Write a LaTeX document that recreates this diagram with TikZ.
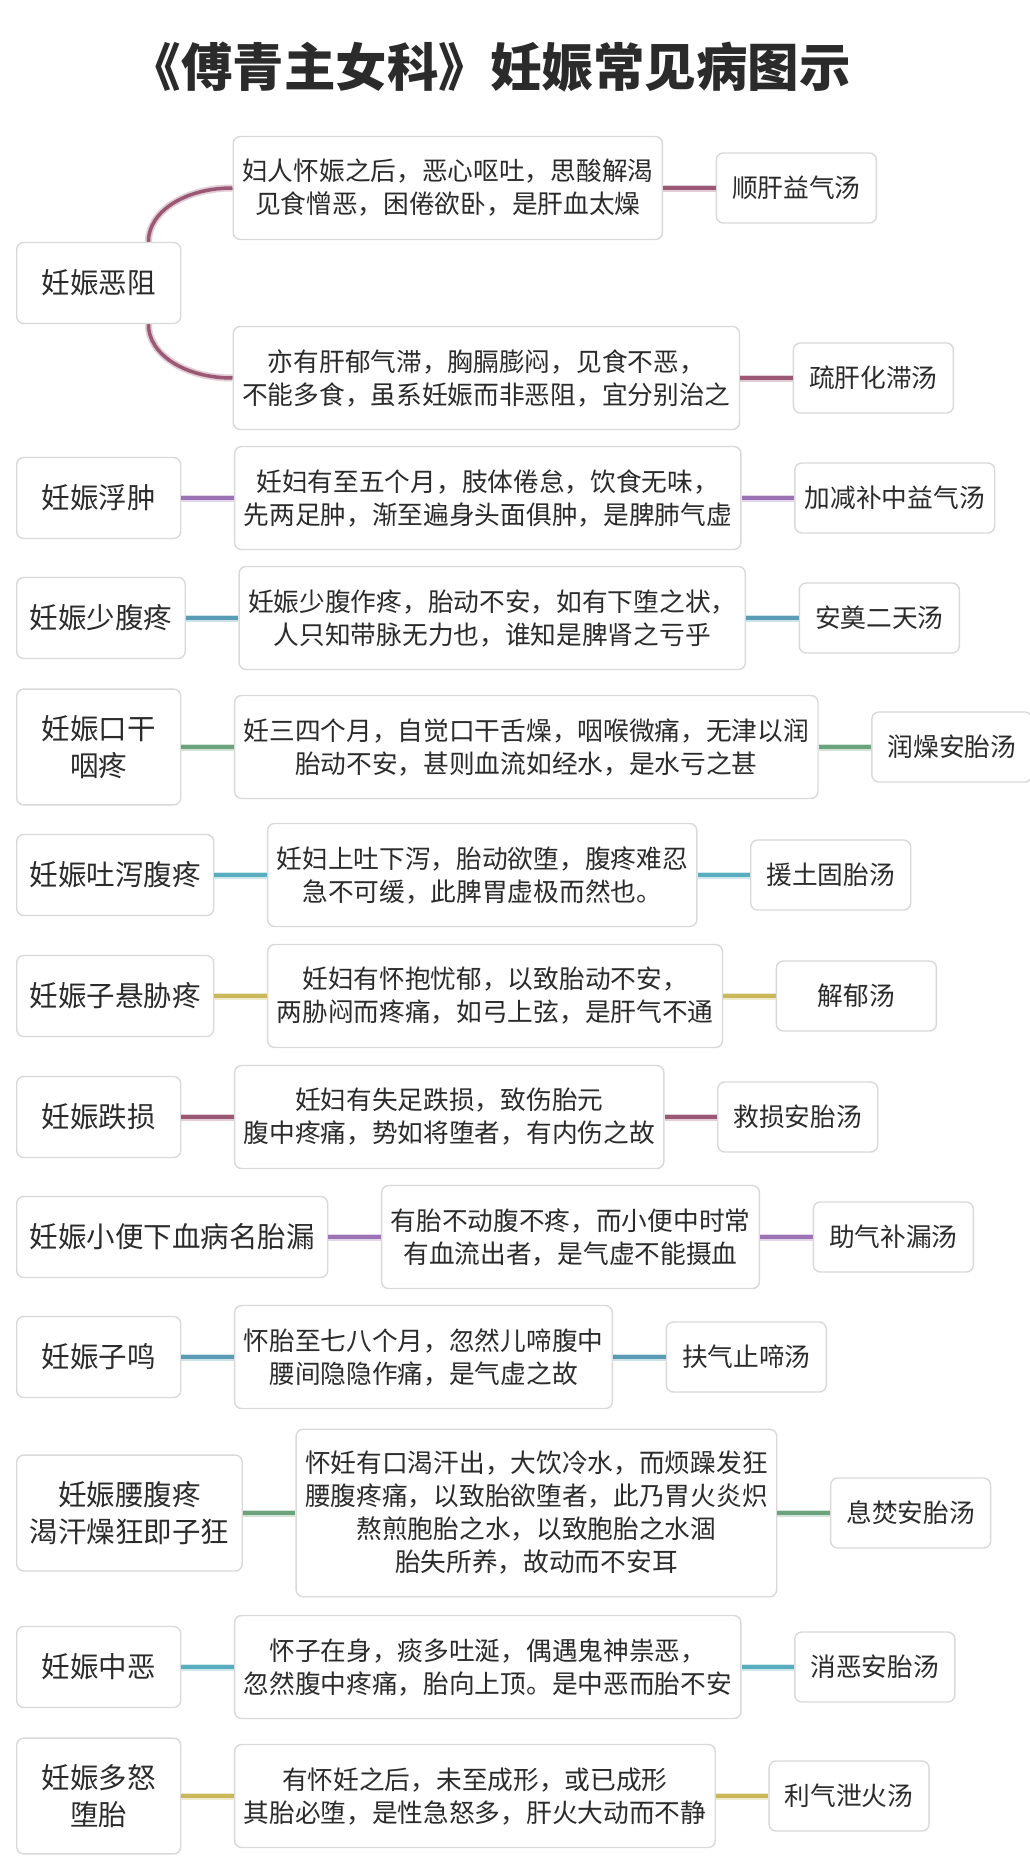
\documentclass[tikz,border=0pt]{standalone}
\usepackage{fontspec}
\setmainfont{Noto Sans CJK SC}
\usetikzlibrary{positioning}
\definecolor{boxgray}{HTML}{D9D9D9}
\definecolor{txtgray}{HTML}{2B2B2B}
\definecolor{linkA}{HTML}{9B5874}
\definecolor{linkB}{HTML}{9C73B5}
\definecolor{linkC}{HTML}{5A9CB4}
\definecolor{linkD}{HTML}{6BA37C}
\definecolor{linkE}{HTML}{58AEBE}
\definecolor{linkF}{HTML}{C9B75A}

\begin{document}
\begin{tikzpicture}[x=1pt,y=-1pt,node distance=52.5pt,
	sicknode/.style={rectangle, rounded corners=7pt, draw=boxgray, line width=1.4pt, fill=white, align=center, text=txtgray, font=\fontsize{28.5}{37.5}\selectfont, inner xsep=13pt, inner ysep=26pt, minimum width=164pt, minimum height=81pt, anchor=west},
	textnode/.style={rectangle, rounded corners=7pt, draw=boxgray, line width=1.4pt, fill=white, align=center, text=txtgray, font=\fontsize{25.7}{33}\selectfont, inner xsep=9pt, inner ysep=22pt, minimum height=103pt},
	fangnode/.style={rectangle, rounded corners=7pt, draw=boxgray, line width=1.4pt, fill=white, align=center, text=txtgray, font=\fontsize{25.7}{33}\selectfont, inner xsep=10pt, minimum width=160pt, minimum height=70pt},
	link/.style={draw=#1, line width=3.5pt, preaction={draw=#1!30, line width=7pt}}]
	\path[use as bounding box, fill=white] (0,0) rectangle (1029,1876);
	\node[text=txtgray, font=\fontsize{51.5}{60}\selectfont\bfseries] (title) at (490,67) {《傅青主女科》妊娠常见病图示};
	% 妊娠恶阻
	\node[sicknode] (ezu) at (16,283) {妊娠恶阻};
	\node[textnode, anchor=west] (ezuA) at (232.5,188) {妇人怀娠之后，恶心呕吐，思酸解渴\\见食憎恶，困倦欲卧，是肝血太燥};
	\node[fangnode] (ezuAf) [right = of ezuA] {顺肝益气汤};
	\node[textnode, anchor=west] (ezuB) at (232.5,378) {亦有肝郁气滞，胸膈膨闷，见食不恶，\\不能多食，虽系妊娠而非恶阻，宜分别治之};
	\node[fangnode] (ezuBf) [right = of ezuB] {疏肝化滞汤};
	\coordinate (ezuTop) at ([xshift=-33pt]ezu.north east);
	\coordinate (ezuBot) at ([xshift=-33pt]ezu.south east);
	\draw[link=linkA] (ezuTop) .. controls +(0,-30) and +(-48,0) .. (ezuA.west);
	\draw[link=linkA] (ezuBot) .. controls +(0,30) and +(-48,0) .. (ezuB.west);
	\draw[link=linkA] (ezuA.east) -- (ezuAf.west);
	\draw[link=linkA] (ezuB.east) -- (ezuBf.west);
	% 妊娠浮肿
	\node[sicknode] (fuzhong) at (16,498) {妊娠浮肿};
	\node[textnode] (fuzhongT) [right = of fuzhong] {妊妇有至五个月，肢体倦怠，饮食无味，\\先两足肿，渐至遍身头面俱肿，是脾肺气虚};
	\node[fangnode] (fuzhongF) [right = of fuzhongT] {加减补中益气汤};
	\draw[link=linkB] (fuzhong.east) -- (fuzhongT.west);
	\draw[link=linkB] (fuzhongT.east) -- (fuzhongF.west);
	% 妊娠少腹疼
	\node[sicknode] (shaofu) at (16,618) {妊娠少腹疼};
	\node[textnode] (shaofuT) [right = of shaofu] {妊娠少腹作疼，胎动不安，如有下堕之状，\\人只知带脉无力也，谁知是脾肾之亏乎};
	\node[fangnode] (shaofuF) [right = of shaofuT] {安奠二天汤};
	\draw[link=linkC] (shaofu.east) -- (shaofuT.west);
	\draw[link=linkC] (shaofuT.east) -- (shaofuF.west);
	% 妊娠口干咽疼
	\node[sicknode] (kougan) at (16,747) {妊娠口干\\咽疼};
	\node[textnode] (kouganT) [right = of kougan] {妊三四个月，自觉口干舌燥，咽喉微痛，无津以润\\胎动不安，甚则血流如经水，是水亏之甚};
	\node[fangnode] (kouganF) [right = of kouganT] {润燥安胎汤};
	\draw[link=linkD] (kougan.east) -- (kouganT.west);
	\draw[link=linkD] (kouganT.east) -- (kouganF.west);
	% 妊娠吐泻腹疼
	\node[sicknode] (tuxie) at (16,875) {妊娠吐泻腹疼};
	\node[textnode] (tuxieT) [right = of tuxie] {妊妇上吐下泻，胎动欲堕，腹疼难忍\\急不可缓，此脾胃虚极而然也。};
	\node[fangnode] (tuxieF) [right = of tuxieT] {援土固胎汤};
	\draw[link=linkE] (tuxie.east) -- (tuxieT.west);
	\draw[link=linkE] (tuxieT.east) -- (tuxieF.west);
	% 妊娠子悬胁疼
	\node[sicknode] (zixuan) at (16,996) {妊娠子悬胁疼};
	\node[textnode] (zixuanT) [right = of zixuan] {妊妇有怀抱忧郁，以致胎动不安，\\两胁闷而疼痛，如弓上弦，是肝气不通};
	\node[fangnode] (zixuanF) [right = of zixuanT] {解郁汤};
	\draw[link=linkF] (zixuan.east) -- (zixuanT.west);
	\draw[link=linkF] (zixuanT.east) -- (zixuanF.west);
	% 妊娠跌损
	\node[sicknode] (diesun) at (16,1117) {妊娠跌损};
	\node[textnode] (diesunT) [right = of diesun] {妊妇有失足跌损，致伤胎元\\腹中疼痛，势如将堕者，有内伤之故};
	\node[fangnode] (diesunF) [right = of diesunT] {救损安胎汤};
	\draw[link=linkA] (diesun.east) -- (diesunT.west);
	\draw[link=linkA] (diesunT.east) -- (diesunF.west);
	% 妊娠小便下血
	\node[sicknode] (tailou) at (16,1237) {妊娠小便下血病名胎漏};
	\node[textnode] (tailouT) [right = of tailou] {有胎不动腹不疼，而小便中时常\\有血流出者，是气虚不能摄血};
	\node[fangnode] (tailouF) [right = of tailouT] {助气补漏汤};
	\draw[link=linkB] (tailou.east) -- (tailouT.west);
	\draw[link=linkB] (tailouT.east) -- (tailouF.west);
	% 妊娠子鸣
	\node[sicknode] (ziming) at (16,1357) {妊娠子鸣};
	\node[textnode] (zimingT) [right = of ziming] {怀胎至七八个月，忽然儿啼腹中\\腰间隐隐作痛，是气虚之故};
	\node[fangnode] (zimingF) [right = of zimingT] {扶气止啼汤};
	\draw[link=linkC] (ziming.east) -- (zimingT.west);
	\draw[link=linkC] (zimingT.east) -- (zimingF.west);
	% 妊娠腰腹疼
	\node[sicknode] (zikuang) at (16,1513) {妊娠腰腹疼\\渴汗燥狂即子狂};
	\node[textnode] (zikuangT) [right = of zikuang] {怀妊有口渴汗出，大饮冷水，而烦躁发狂\\腰腹疼痛，以致胎欲堕者，此乃胃火炎炽\\熬煎胞胎之水，以致胞胎之水涸\\胎失所养，故动而不安耳};
	\node[fangnode] (zikuangF) [right = of zikuangT] {息焚安胎汤};
	\draw[link=linkD] (zikuang.east) -- (zikuangT.west);
	\draw[link=linkD] (zikuangT.east) -- (zikuangF.west);
	% 妊娠中恶
	\node[sicknode] (zhonge) at (16,1667) {妊娠中恶};
	\node[textnode] (zhongeT) [right = of zhonge] {怀子在身，痰多吐涎，偶遇鬼神祟恶，\\忽然腹中疼痛，胎向上顶。是中恶而胎不安};
	\node[fangnode] (zhongeF) [right = of zhongeT] {消恶安胎汤};
	\draw[link=linkE] (zhonge.east) -- (zhongeT.west);
	\draw[link=linkE] (zhongeT.east) -- (zhongeF.west);
	% 妊娠多怒堕胎
	\node[sicknode] (nutai) at (16,1796) {妊娠多怒\\堕胎};
	\node[textnode] (nutaiT) [right = of nutai] {有怀妊之后，未至成形，或已成形\\其胎必堕，是性急怒多，肝火大动而不静};
	\node[fangnode] (nutaiF) [right = of nutaiT] {利气泄火汤};
	\draw[link=linkF] (nutai.east) -- (nutaiT.west);
	\draw[link=linkF] (nutaiT.east) -- (nutaiF.west);
\end{tikzpicture}
\end{document}
